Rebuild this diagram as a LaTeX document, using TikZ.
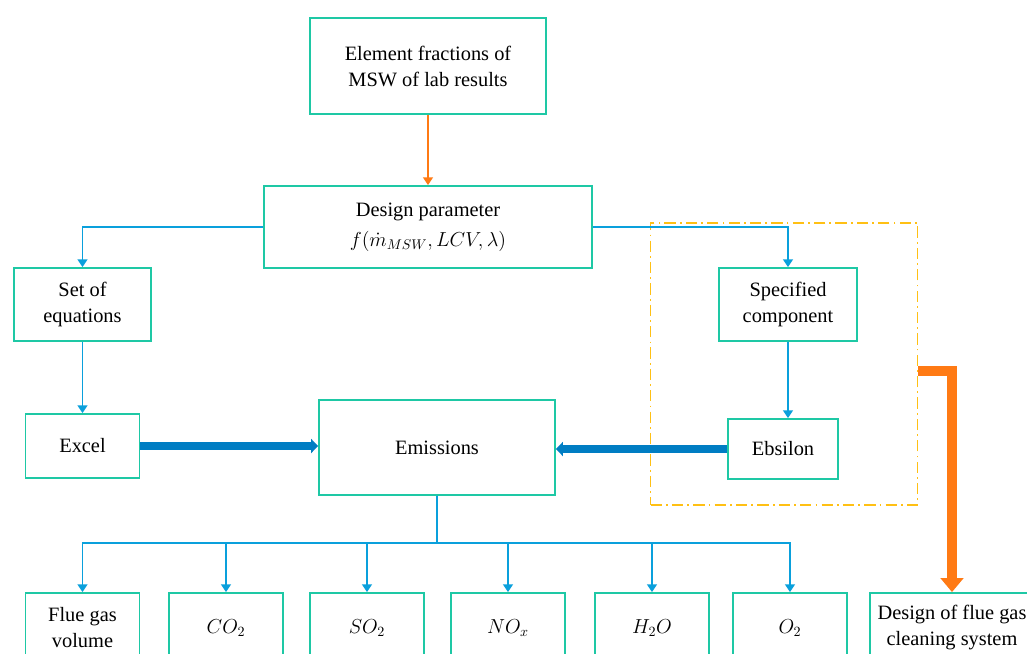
\documentclass[tikz,border=0pt]{standalone}
\usepackage{fontspec}
\setmainfont{Liberation Serif}
\usetikzlibrary{arrows.meta}
\definecolor{boxgreen}{RGB}{30,200,165}
\definecolor{lineblue}{RGB}{10,160,220}
\definecolor{thickblue}{RGB}{0,125,195}
\definecolor{flowORANGE}{RGB}{255,122,20}
\definecolor{groupgold}{RGB}{255,192,20}
\begin{document}
\begin{tikzpicture}[x=0.025cm,y=-0.025cm,
  box/.style={draw=boxgreen,line width=1.3pt,fill=white,align=center,inner sep=0pt,
    font=\fontsize{14.5}{18.5}\selectfont},
  wh/.style 2 args={minimum width=#1*0.025cm,minimum height=#2*0.025cm},
  flow/.style={draw=lineblue,line width=1.2pt,-{Triangle[length=5.5pt,width=7pt]}},
  feed/.style={draw=thickblue,line width=5pt,-{Triangle[length=5pt,width=10pt]}},
  grp/.style={draw=groupgold,line width=1.4pt,dash pattern=on 8pt off 3pt on 1.2pt off 3pt}]
\useasboundingbox (0,0) rectangle (1027,653);
\clip (0,0) rectangle (1027,653);
\fill[white] (0,0) rectangle (1027,653);

\node[box,wh={236}{96}] (elem) at (428,66) {Element fractions of\\MSW of lab results};
\node[box,wh={328}{82}] (design) at (428,227) {Design parameter\\[3pt]$f(\dot m_{MSW}, LCV, \lambda)$};
\node[box,wh={137}{73}] (seteq) at (82.5,304.5) {Set of\\equations};
\node[box,wh={114}{64}] (excel) at (82.5,446) {Excel};
\node[box,wh={236}{95}] (emis) at (437,447.5) {Emissions};
\node[grp,wh={267}{282},inner sep=0pt] (group) at (784,364) {};
\node[box,wh={138}{73}] (spec) at (788,304.5) {Specified\\component};
\node[box,wh={110}{60}] (ebs) at (783,449) {Ebsilon};

\node[box,wh={114}{70}] (fgv) at (82.5,628) {Flue gas\\volume};
\node[box,wh={114}{70}] (co2) at (226,628) {$CO_2$};
\node[box,wh={114}{70}] (so2) at (367,628) {$SO_2$};
\node[box,wh={114}{70}] (nox) at (508,628) {$NO_x$};
\node[box,wh={114}{70}] (h2o) at (652,628) {$H_2O$};
\node[box,wh={114}{70}] (o2) at (790,628) {$O_2$};
\node[box,wh={164}{70}] (clean) at (952,628) {Design of flue gas\\cleaning system};

\draw[flow,draw=flowORANGE] (elem.south) -- (design.north);
\draw[flow] (design.west) -| (seteq.north);
\draw[flow] (design.east) -| (spec.north);
\draw[flow] (seteq.south) -- (excel.north);
\draw[flow] (spec.south) -- (spec.south |- ebs.north);
\draw[feed] (excel.east) -- (excel.east -| emis.west);
\draw[feed] (ebs.west) -- (ebs.west -| emis.east);

\coordinate (bus) at (437,543);
\foreach \b in {fgv,co2,so2,nox,h2o,o2}
  \draw[flow] (emis.south) |- (bus -| \b.north) -- (\b.north);

\coordinate (tap) at (918,371);
\draw[draw=flowORANGE,line width=7pt,-{Triangle[length=10pt,width=16pt]}] (tap) -| (clean.north);
\end{tikzpicture}
\end{document}
